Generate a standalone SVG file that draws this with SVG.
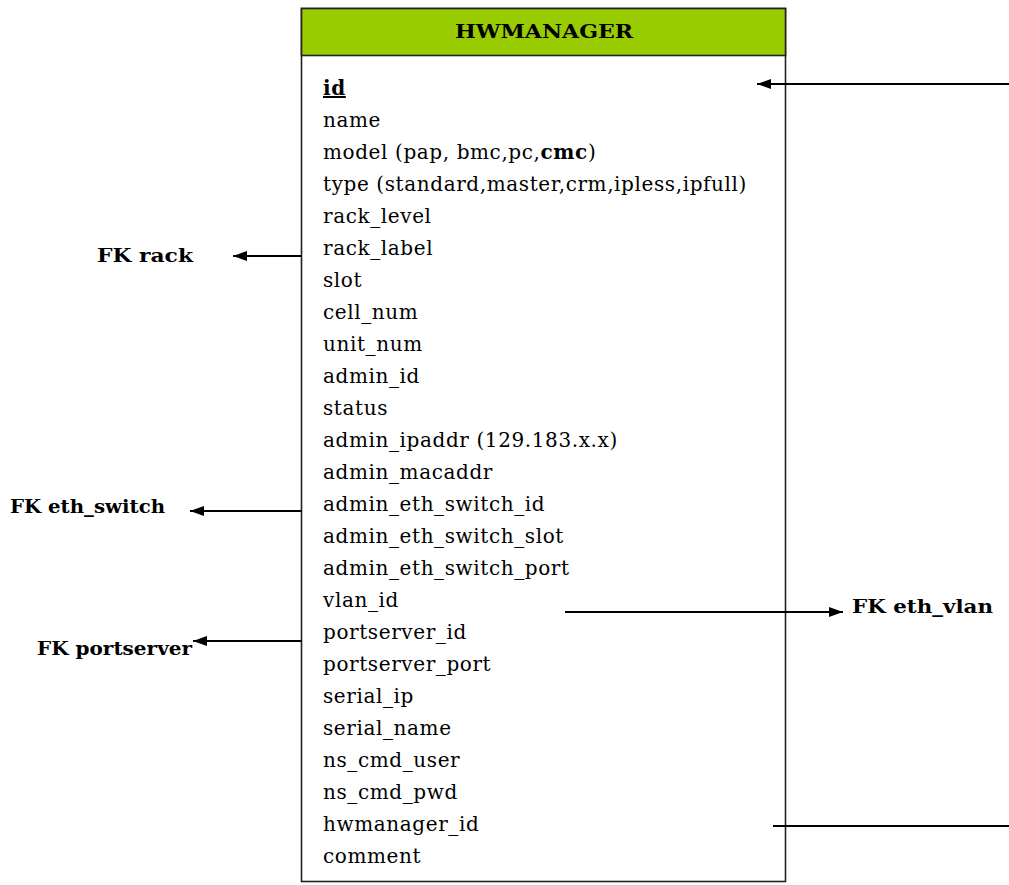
<svg xmlns="http://www.w3.org/2000/svg" width="1009" height="885" viewBox="0 0 1009 885">
<style>
.f{font-family:"DejaVu Serif","Liberation Serif",serif;font-size:20px;letter-spacing:0.6px;fill:#000}
.b{font-family:"DejaVu Serif","Liberation Serif",serif;font-size:18px;font-weight:bold;fill:#000}
.ln{stroke:#000;stroke-width:1.8;fill:none}
</style>
<defs>
<marker id="ah" viewBox="0 0 14 10" refX="14" refY="5" markerWidth="14" markerHeight="10" markerUnits="userSpaceOnUse" orient="auto">
<path d="M0,0 L14,5 L0,10 Z" fill="#000"/>
</marker>
</defs>
<g id="hwmanager">
<rect x="301.5" y="8.5" width="484" height="873" fill="#fff" stroke="#222" stroke-width="1.6"/>
<rect x="301.5" y="8.5" width="484" height="47" fill="#99CC00" stroke="#222" stroke-width="1.6"/>
<text class="b" x="544" y="38" text-anchor="middle" textLength="178" lengthAdjust="spacingAndGlyphs">HWMANAGER</text>
<text class="f" x="323" y="95" font-weight="bold" text-decoration="underline">id</text>
<text class="f" x="323" y="127">name</text>
<text class="f" x="323" y="159">model (pap, bmc,pc,<tspan font-weight="bold">cmc</tspan>)</text>
<text class="f" x="323" y="191">type (standard,master,crm,ipless,ipfull)</text>
<text class="f" x="323" y="223">rack_level</text>
<text class="f" x="323" y="255">rack_label</text>
<text class="f" x="323" y="287">slot</text>
<text class="f" x="323" y="319">cell_num</text>
<text class="f" x="323" y="351">unit_num</text>
<text class="f" x="323" y="383">admin_id</text>
<text class="f" x="323" y="415">status</text>
<text class="f" x="323" y="447">admin_ipaddr (129.183.x.x)</text>
<text class="f" x="323" y="479">admin_macaddr</text>
<text class="f" x="323" y="511">admin_eth_switch_id</text>
<text class="f" x="323" y="543">admin_eth_switch_slot</text>
<text class="f" x="323" y="575">admin_eth_switch_port</text>
<text class="f" x="323" y="607">vlan_id</text>
<text class="f" x="323" y="639">portserver_id</text>
<text class="f" x="323" y="671">portserver_port</text>
<text class="f" x="323" y="703">serial_ip</text>
<text class="f" x="323" y="735">serial_name</text>
<text class="f" x="323" y="767">ns_cmd_user</text>
<text class="f" x="323" y="799">ns_cmd_pwd</text>
<text class="f" x="323" y="831">hwmanager_id</text>
<text class="f" x="323" y="863">comment</text>
</g>
<g id="fk-rack"><text class="b" x="97" y="262" textLength="96" lengthAdjust="spacingAndGlyphs">FK rack</text></g>
<g id="fk-eth-switch"><text class="b" x="10" y="513" textLength="155" lengthAdjust="spacingAndGlyphs">FK eth_switch</text></g>
<g id="fk-portserver"><text class="b" x="37" y="655" textLength="155" lengthAdjust="spacingAndGlyphs">FK portserver</text></g>
<g id="fk-eth-vlan"><text class="b" x="852" y="613" textLength="141" lengthAdjust="spacingAndGlyphs">FK eth_vlan</text></g>
<g id="connectors">
<line class="ln" x1="1009" y1="84" x2="757" y2="84" marker-end="url(#ah)"/>
<line class="ln" x1="301.5" y1="256" x2="233" y2="256" marker-end="url(#ah)"/>
<line class="ln" x1="301.5" y1="511" x2="190" y2="511" marker-end="url(#ah)"/>
<line class="ln" x1="301.5" y1="641" x2="193" y2="641" marker-end="url(#ah)"/>
<line class="ln" x1="565" y1="612" x2="843" y2="612" marker-end="url(#ah)"/>
<line class="ln" x1="773" y1="826" x2="1009" y2="826"/>
</g>
</svg>
